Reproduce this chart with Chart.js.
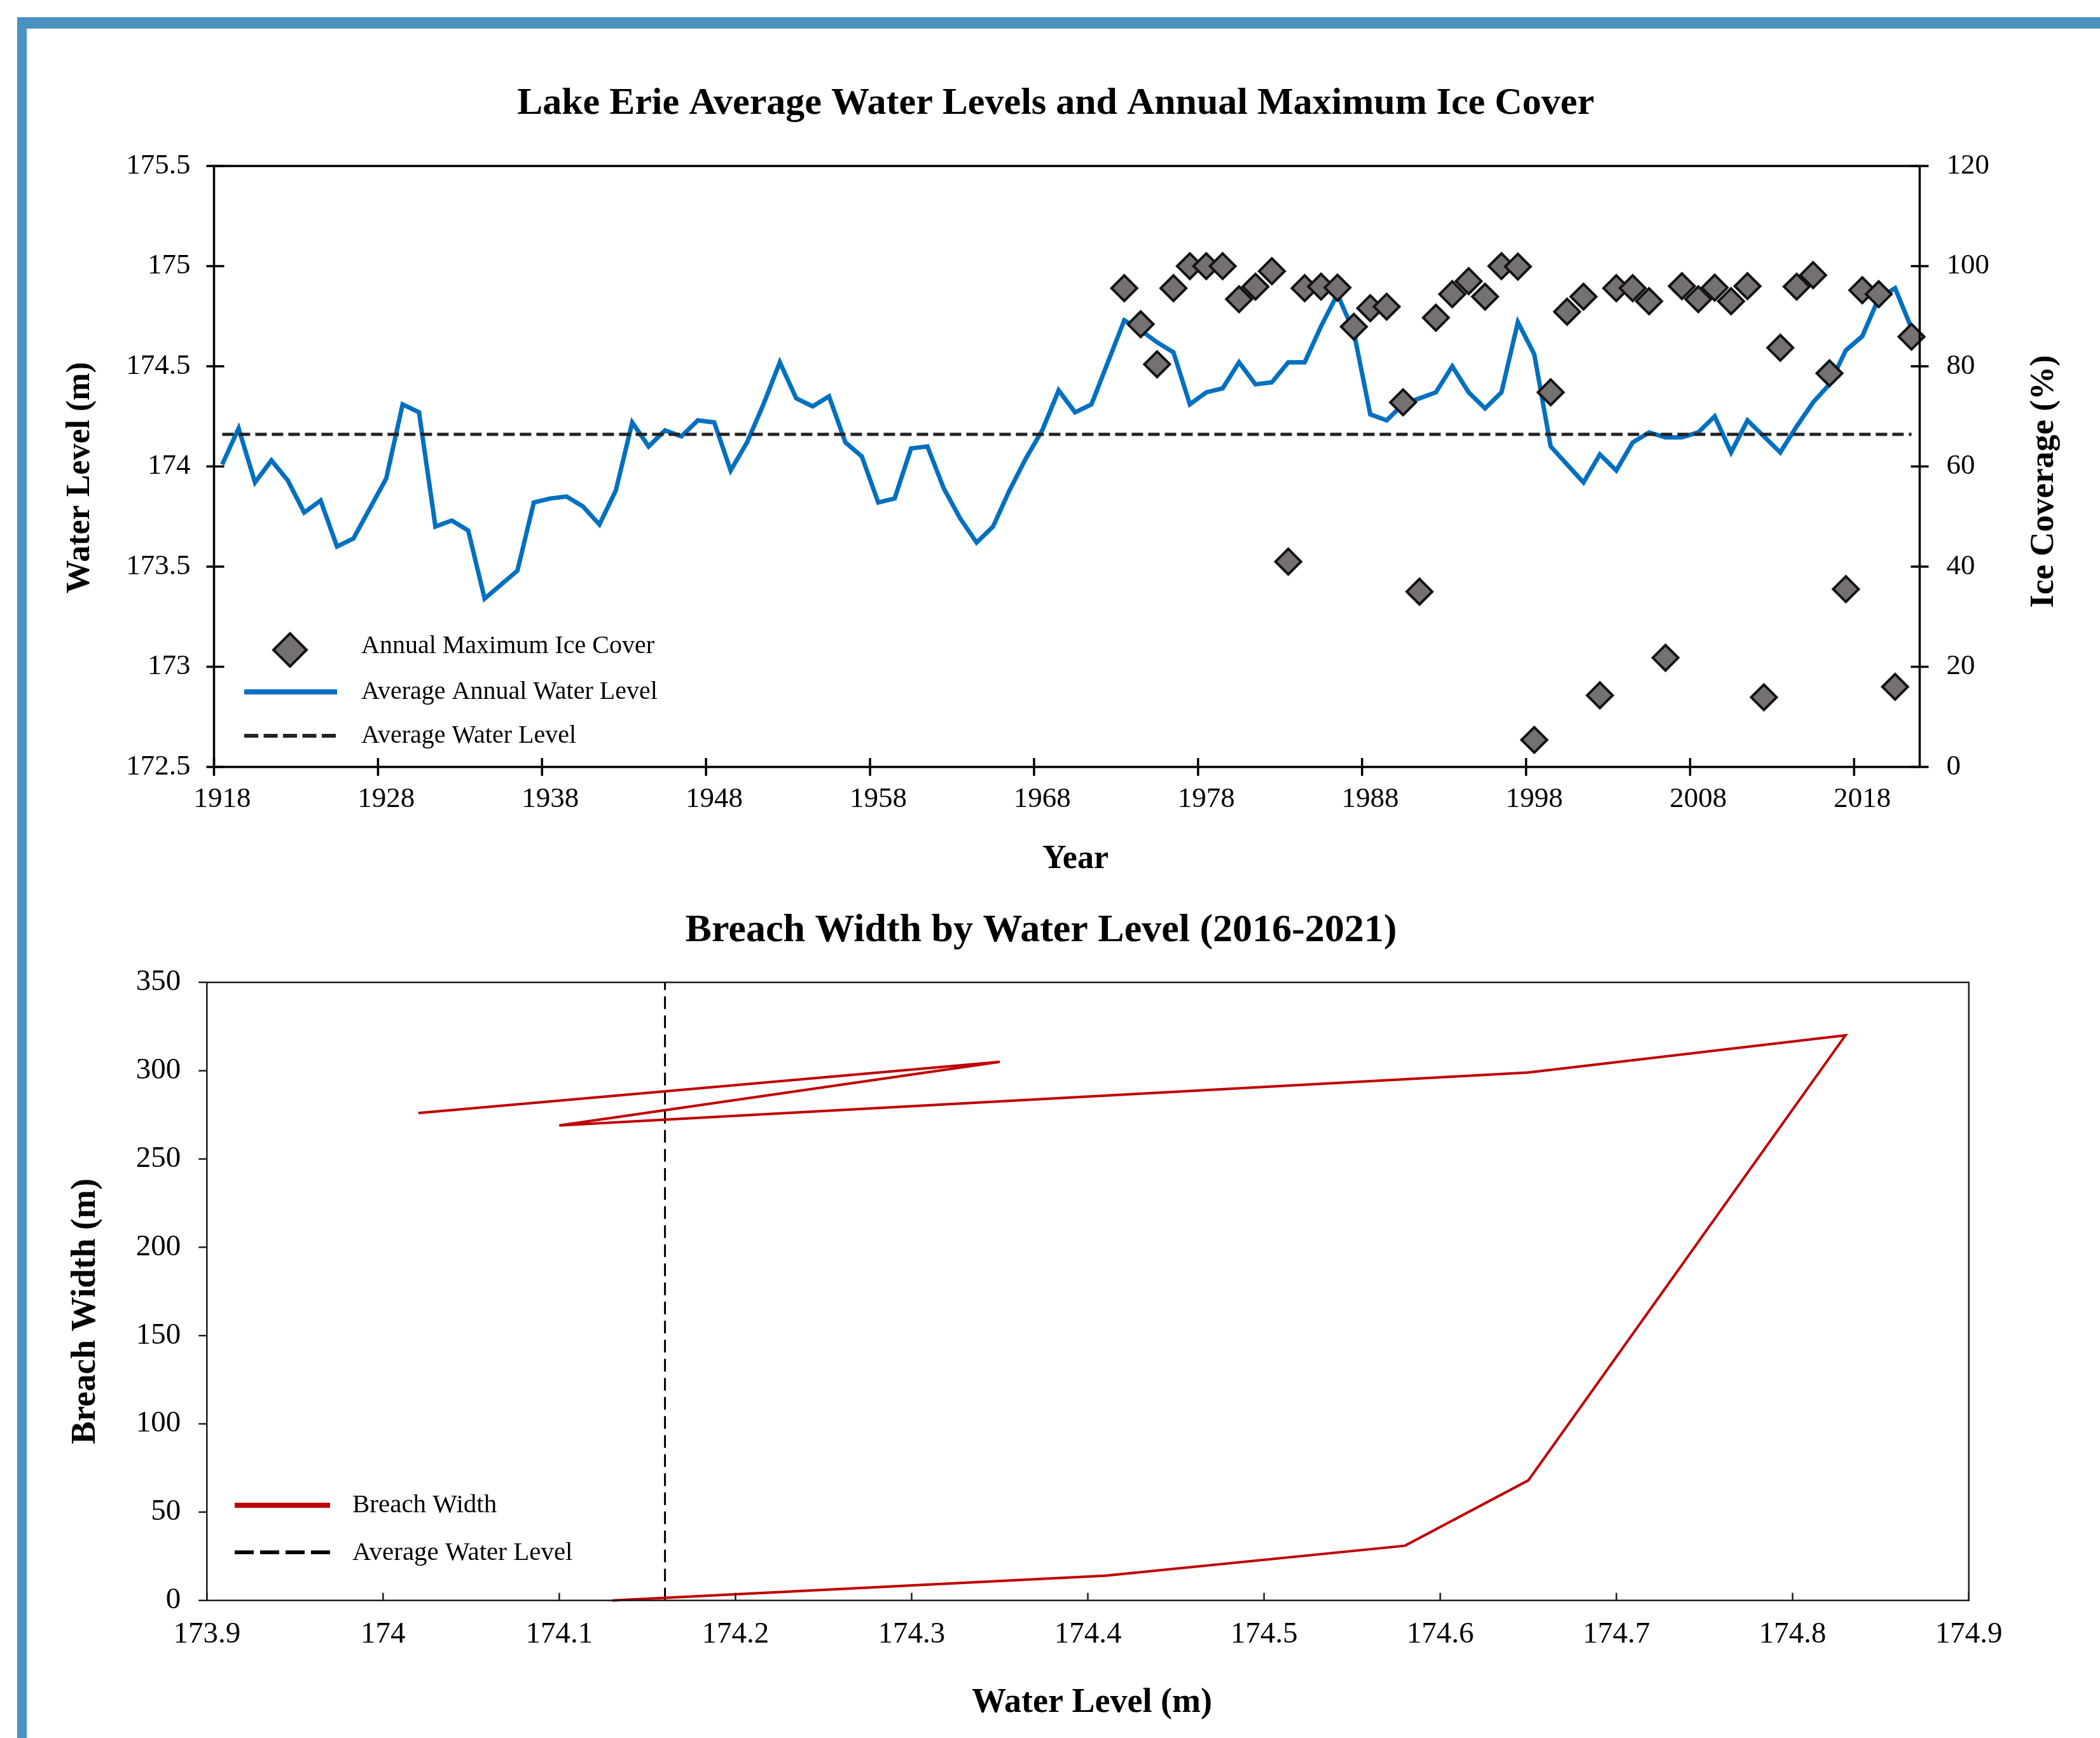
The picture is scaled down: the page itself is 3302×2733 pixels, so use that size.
<!DOCTYPE html>
<html>
<head>
<meta charset="utf-8">
<title>Lake Erie Water Levels and Breach Width</title>
<script src="https://cdn.jsdelivr.net/npm/chart.js@4.4.1/dist/chart.umd.min.js"></script>
<style>
  html, body { margin: 0; padding: 0; background: #fff; overflow: hidden; }
  body { width: 3302px; height: 2733px; position: relative; }
  .moldura-topo { position: absolute; left: 27px; top: 27px; width: 3275px; height: 18px; background: #4A93C1; z-index: 2; }
  .moldura-esq { position: absolute; left: 27px; top: 27px; width: 15px; height: 2706px; background: #4A93C1; z-index: 2; }
  canvas { position: absolute; left: 0; z-index: 1; }
  #chart-niveis { top: 50px; }
  #chart-brecha { top: 1400px; }
</style>
</head>
<body>
<div class="moldura-topo"></div>
<div class="moldura-esq"></div>
<canvas id="chart-niveis" width="3302" height="1350"></canvas>
<canvas id="chart-brecha" width="3302" height="1333"></canvas>

<script>
const SERIF = "'Liberation Serif', 'Times New Roman', serif";

// --- Dados: nível médio anual do Lago Erie (m) ---
const anos = [
  1918, 1919, 1920, 1921, 1922, 1923, 1924, 1925, 1926, 1927,
  1928, 1929, 1930, 1931, 1932, 1933, 1934, 1935, 1936, 1937,
  1938, 1939, 1940, 1941, 1942, 1943, 1944, 1945, 1946, 1947,
  1948, 1949, 1950, 1951, 1952, 1953, 1954, 1955, 1956, 1957,
  1958, 1959, 1960, 1961, 1962, 1963, 1964, 1965, 1966, 1967,
  1968, 1969, 1970, 1971, 1972, 1973, 1974, 1975, 1976, 1977,
  1978, 1979, 1980, 1981, 1982, 1983, 1984, 1985, 1986, 1987,
  1988, 1989, 1990, 1991, 1992, 1993, 1994, 1995, 1996, 1997,
  1998, 1999, 2000, 2001, 2002, 2003, 2004, 2005, 2006, 2007,
  2008, 2009, 2010, 2011, 2012, 2013, 2014, 2015, 2016, 2017,
  2018, 2019, 2020, 2021
];
const nivelAnual = [
  174.01, 174.19, 173.92, 174.03, 173.93, 173.77, 173.83, 173.60, 173.64, 173.79,
  173.94, 174.31, 174.27, 173.70, 173.73, 173.68, 173.34, 173.41, 173.48, 173.82,
  173.84, 173.85, 173.80, 173.71, 173.88, 174.22, 174.10, 174.18, 174.15, 174.23,
  174.22, 173.98, 174.12, 174.31, 174.52, 174.34, 174.30, 174.35, 174.12, 174.05,
  173.82, 173.84, 174.09, 174.10, 173.89, 173.74, 173.62, 173.70, 173.88, 174.04,
  174.18, 174.38, 174.27, 174.31, 174.52, 174.73, 174.68, 174.62, 174.57, 174.31,
  174.37, 174.39, 174.52, 174.41, 174.42, 174.52, 174.52, 174.70, 174.86, 174.67,
  174.26, 174.23, 174.31, 174.34, 174.37, 174.50, 174.37, 174.29, 174.37, 174.72,
  174.56, 174.10, 174.01, 173.92, 174.06, 173.98, 174.12, 174.17, 174.145, 174.145,
  174.17, 174.25, 174.07, 174.23, 174.15, 174.07, 174.20, 174.32, 174.41, 174.58,
  174.65, 174.84, 174.89, 174.69
];
const NIVEL_MEDIO = 174.16;

// --- Dados: cobertura máxima anual de gelo (%) ---
const anosGelo = [
  1973, 1974, 1975, 1976, 1977, 1978, 1979, 1980, 1981, 1982,
  1983, 1984, 1985, 1986, 1987, 1988, 1989, 1990, 1991, 1992,
  1993, 1994, 1995, 1996, 1997, 1998, 1999, 2000, 2001, 2002,
  2003, 2004, 2005, 2006, 2007, 2008, 2009, 2010, 2011, 2012,
  2013, 2014, 2015, 2016, 2017, 2018, 2019, 2020, 2021
];
const coberturaGelo = [
  95.6, 88.4, 80.4, 95.6, 100, 100, 100, 93.4, 95.9, 99.0,
  41.0, 95.6, 95.9, 95.7, 87.9, 91.6, 91.9, 72.8, 35.0, 89.7,
  94.4, 97.0, 93.9, 100, 99.9, 5.4, 74.8, 90.9, 93.9, 14.3,
  95.6, 95.6, 93.0, 21.8, 96.0, 93.4, 95.7, 93.0, 96.0, 13.9,
  83.7, 95.9, 98.2, 78.6, 35.5, 95.2, 94.4, 16.0, 85.9
];

// --- Dados: largura da brecha x nível d'água (2016-2021) ---
const nivelBrecha = [174.13, 174.41, 174.58, 174.65, 174.83, 174.65, 174.10, 174.35, 174.02];
const larguraBrecha = [0, 14, 31, 68, 320, 299, 269, 305, 276];
const LARGURA_MIN = 0;
const LARGURA_MAX = 350;

const graficos = {};

const fmt = v => String(Math.round(v * 100) / 100);

// Moldura da área do gráfico e marcas de escala cruzando o eixo
function pluginMoldura(cor, espessura, marcas) {
  return {
    id: 'moldura',
    afterDraw(chart) {
      const { ctx, chartArea: a, scales } = chart;
      ctx.save();
      ctx.strokeStyle = cor;
      ctx.lineWidth = espessura;
      ctx.strokeRect(a.left, a.top, a.right - a.left, a.bottom - a.top);
      ctx.beginPath();
      marcas.forEach(m => {
        const s = scales[m.eixo];
        let pix = [];
        if (s.type === 'category') {
          for (let i = 0; i <= s.getLabels().length; i += m.cada) pix.push(s.getPixelForValue(i - 0.5));
        } else {
          pix = s.ticks.map(t => s.getPixelForValue(t.value));
        }
        pix.forEach(p => {
          if (m.lado === 'bottom') {
            ctx.moveTo(p, a.bottom - m.dentro); ctx.lineTo(p, a.bottom + m.fora);
          } else if (m.lado === 'left') {
            ctx.moveTo(a.left - m.fora, p); ctx.lineTo(a.left + m.dentro, p);
          } else {
            ctx.moveTo(a.right - m.dentro, p); ctx.lineTo(a.right + m.fora, p);
          }
        });
      });
      ctx.stroke();
      ctx.restore();
    }
  };
}

// Títulos (do gráfico e dos eixos)
function pluginTextos(textos) {
  return {
    id: 'textos',
    afterDraw(chart) {
      const ctx = chart.ctx;
      textos.forEach(t => {
        ctx.save();
        ctx.translate(t.x, t.y);
        if (t.rot) ctx.rotate(t.rot);
        ctx.font = t.fonte;
        ctx.fillStyle = '#000';
        ctx.textAlign = 'center';
        ctx.textBaseline = 'middle';
        ctx.fillText(t.texto, 0, 0);
        ctx.restore();
      });
    }
  };
}

// Legenda dentro da área do gráfico, usando o estilo de cada dataset
function pluginLegenda(itens, fonte) {
  return {
    id: 'legenda',
    afterDraw(chart) {
      const ctx = chart.ctx;
      itens.forEach(it => {
        const ds = chart.data.datasets[it.ds];
        ctx.save();
        if (it.losango) {
          const [cx, cy, r] = it.losango;
          ctx.beginPath();
          ctx.moveTo(cx - r, cy); ctx.lineTo(cx, cy - r); ctx.lineTo(cx + r, cy); ctx.lineTo(cx, cy + r);
          ctx.closePath();
          ctx.fillStyle = ds.pointBackgroundColor;
          ctx.fill();
          ctx.lineWidth = ds.pointBorderWidth;
          ctx.strokeStyle = ds.pointBorderColor;
          ctx.stroke();
        } else {
          const [x0, x1, y] = it.linha;
          ctx.beginPath();
          ctx.moveTo(x0, y); ctx.lineTo(x1, y);
          ctx.strokeStyle = ds.borderColor;
          ctx.lineWidth = it.espessura;
          ctx.setLineDash(it.traco || []);
          ctx.stroke();
        }
        ctx.font = fonte;
        ctx.fillStyle = '#000';
        ctx.textAlign = 'left';
        ctx.textBaseline = 'middle';
        ctx.fillText(ds.label, it.texto[0], it.texto[1]);
        ctx.restore();
      });
    }
  };
}

function criarGraficoNiveis() {
  const fonteTick = { family: SERIF, size: 45 };
  const ctx = document.getElementById('chart-niveis').getContext('2d');
  if (graficos.niveis) graficos.niveis.destroy();
  graficos.niveis = new Chart(ctx, {
    type: 'line',
    data: {
      labels: anos.map(String),
      datasets: [
        {
          label: 'Annual Maximum Ice Cover',
          data: anosGelo.map((a, i) => ({ x: String(a), y: coberturaGelo[i] })),
          yAxisID: 'y1',
          showLine: false,
          pointStyle: 'rectRot',
          pointRadius: 20,
          pointBackgroundColor: '#767171',
          pointBorderColor: '#141414',
          pointBorderWidth: 4,
          clip: false
        },
        {
          label: 'Average Water Level',
          data: anos.map(() => NIVEL_MEDIO),
          yAxisID: 'y',
          borderColor: '#222222',
          borderWidth: 5,
          borderDash: [18, 8],
          pointRadius: 0
        },
        {
          label: 'Average Annual Water Level',
          data: nivelAnual,
          yAxisID: 'y',
          borderColor: '#0070C0',
          borderWidth: 7,
          pointRadius: 0,
          tension: 0
        }
      ]
    },
    options: {
      responsive: false,
      animation: false,
      devicePixelRatio: 1,
      events: [],
      layout: { padding: { top: 211, left: 0, right: 0, bottom: 0 } },
      scales: {
        x: {
          type: 'category',
          offset: true,
          grid: { display: false, drawTicks: false },
          border: { display: false },
          ticks: {
            autoSkip: false, maxRotation: 0, padding: 24, font: fonteTick, color: '#000',
            callback(v, i) { return i % 10 === 0 ? this.getLabelForValue(v) : ''; }
          },
          afterFit(s) { s.height = 194; }
        },
        y: {
          position: 'left',
          min: 172.5, max: 175.5,
          grid: { display: false, drawTicks: false },
          border: { display: false },
          ticks: { stepSize: 0.5, padding: 37, font: fonteTick, color: '#000', callback: fmt },
          afterFit(s) { s.width = 336.5; }
        },
        y1: {
          position: 'right',
          min: 0, max: 120,
          grid: { display: false, drawTicks: false },
          border: { display: false },
          ticks: { stepSize: 20, padding: 42, font: fonteTick, color: '#000', callback: fmt },
          afterFit(s) { s.width = 283.5; }
        }
      },
      plugins: {
        legend: { display: false },
        title: { display: false },
        tooltip: { enabled: false }
      }
    },
    plugins: [
      pluginMoldura('#000', 3.5, [
        { eixo: 'x', lado: 'bottom', cada: 10, dentro: 14, fora: 14 },
        { eixo: 'y', lado: 'left', dentro: 16, fora: 12 },
        { eixo: 'y1', lado: 'right', dentro: 14, fora: 14 }
      ]),
      pluginTextos([
        { texto: 'Lake Erie Average Water Levels and Annual Maximum Ice Cover', x: 1660, y: 113, fonte: `bold 60px ${SERIF}` },
        { texto: 'Water Level (m)', x: 127, y: 701, rot: -Math.PI / 2, fonte: `bold 52px ${SERIF}` },
        { texto: 'Ice Coverage (%)', x: 3214, y: 707, rot: -Math.PI / 2, fonte: `bold 53px ${SERIF}` },
        { texto: 'Year', x: 1691, y: 1302, fonte: `bold 52px ${SERIF}` }
      ]),
      pluginLegenda([
        { ds: 0, losango: [456, 972, 26], texto: [568, 966] },
        { ds: 2, linha: [384, 530, 1038], espessura: 8, texto: [568, 1038] },
        { ds: 1, linha: [384, 528, 1107], espessura: 6, traco: [22, 8.5], texto: [568, 1107] }
      ], `40px ${SERIF}`)
    ]
  });
}

function criarGraficoBrecha() {
  const fonteTick = { family: SERIF, size: 47 };
  const ctx = document.getElementById('chart-brecha').getContext('2d');
  if (graficos.brecha) graficos.brecha.destroy();
  graficos.brecha = new Chart(ctx, {
    type: 'scatter',
    data: {
      datasets: [
        {
          label: 'Breach Width',
          data: nivelBrecha.map((x, i) => ({ x, y: larguraBrecha[i] })),
          showLine: true,
          borderColor: '#C00000',
          borderWidth: 4,
          pointRadius: 0,
          clip: false
        },
        {
          label: 'Average Water Level',
          data: [{ x: NIVEL_MEDIO, y: LARGURA_MIN }, { x: NIVEL_MEDIO, y: LARGURA_MAX }],
          showLine: true,
          borderColor: '#000',
          borderWidth: 3,
          borderDash: [20, 10],
          pointRadius: 0
        }
      ]
    },
    options: {
      responsive: false,
      animation: false,
      devicePixelRatio: 1,
      events: [],
      layout: { padding: { top: 144.8, left: 0, right: 206.3, bottom: 0 } },
      scales: {
        x: {
          type: 'linear',
          min: 173.9, max: 174.9,
          grid: { display: false, drawTicks: false },
          border: { display: false },
          ticks: { stepSize: 0.1, padding: 26, font: fonteTick, color: '#000', maxRotation: 0, callback: fmt },
          afterFit(s) { s.height = 216.3; }
        },
        y: {
          min: LARGURA_MIN, max: LARGURA_MAX,
          grid: { display: false, drawTicks: false },
          border: { display: false },
          ticks: { stepSize: 50, padding: 41, font: fonteTick, color: '#000', callback: fmt },
          afterFit(s) { s.width = 325.3; }
        }
      },
      plugins: {
        legend: { display: false },
        title: { display: false },
        tooltip: { enabled: false }
      }
    },
    plugins: [
      pluginMoldura('#1e1e1e', 2.5, [
        { eixo: 'x', lado: 'bottom', dentro: 12, fora: 0 },
        { eixo: 'y', lado: 'left', dentro: 0, fora: 13 }
      ]),
      pluginTextos([
        { texto: 'Breach Width by Water Level (2016-2021)', x: 1637, y: 64, fonte: `bold 62px ${SERIF}` },
        { texto: 'Breach Width (m)', x: 135, y: 662, rot: -Math.PI / 2, fonte: `bold 54px ${SERIF}` },
        { texto: 'Water Level (m)', x: 1717, y: 1278, fonte: `bold 54px ${SERIF}` }
      ]),
      pluginLegenda([
        { ds: 0, linha: [369, 519, 967], espessura: 8, texto: [554, 967] },
        { ds: 1, linha: [369, 519, 1041], espessura: 6, traco: [30, 10], texto: [554, 1042] }
      ], `41px ${SERIF}`)
    ]
  });
}

document.addEventListener('DOMContentLoaded', () => {
  Chart.defaults.font.family = SERIF;
  Chart.defaults.color = '#000';
  criarGraficoNiveis();
  criarGraficoBrecha();
});
</script>
</body>
</html>
